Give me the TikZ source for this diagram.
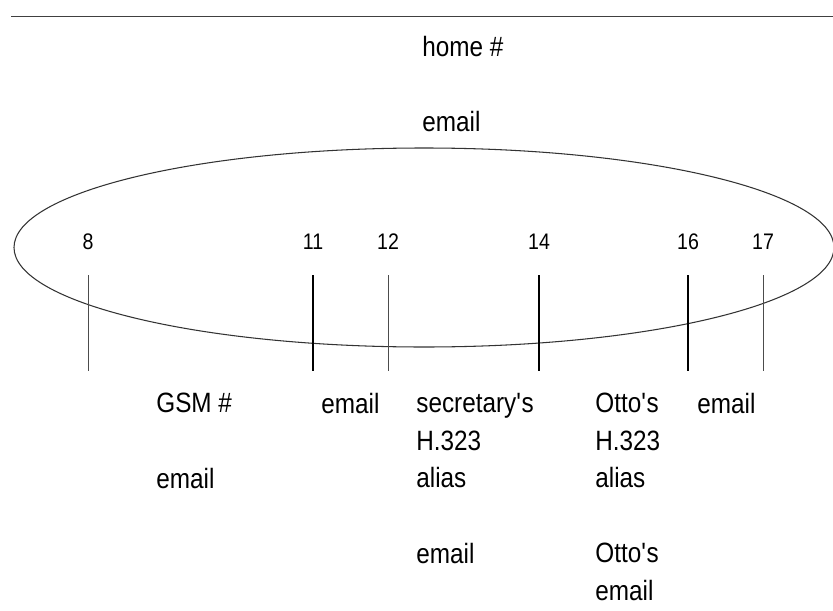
\documentclass[tikz,border=0pt]{standalone}
\usepackage{fontspec}
\setmainfont[FakeStretch=0.87]{Liberation Sans}
\usepackage{tikz}

\begin{document}
\begin{tikzpicture}
\tikzset{
  lbl/.style={anchor=north west,inner sep=0pt,align=left,font=\fontsize{15.9pt}{21.3pt}\selectfont},
  num/.style={anchor=base,inner sep=0pt,font=\fontsize{12.8pt}{15pt}\selectfont},
  thinbar/.style={line width=0.5pt,black!70},
  thickbar/.style={line width=1.1pt}
}
\useasboundingbox (0,0) rectangle (16.66,12.2);
\draw[line width=0.9pt,black!75] (0.22,11.87) -- (16.66,11.87);
\node[lbl] (home) at (8.44,11.48) {home \#};
\node[lbl] (homemail) at (8.44,9.98) {email};
\draw[line width=0.6pt,black!80] (8.48,7.25) ellipse (8.2 and 1.99);
% positions on the line
\node[num] (n8) at (1.76,7.22) {8};
\node[num] (n11) at (6.26,7.22) {11};
\node[num] (n12) at (7.76,7.22) {12};
\node[num] (n14) at (10.78,7.22) {14};
\node[num] (n16) at (13.76,7.22) {16};
\node[num] (n17) at (15.26,7.22) {17};
\draw[thinbar] (n8 |- 0,6.7) -- (n8 |- 0,4.78);
\draw[thickbar] (n11 |- 0,6.7) -- (n11 |- 0,4.78);
\draw[thinbar] (n12 |- 0,6.7) -- (n12 |- 0,4.78);
\draw[thickbar] (n14 |- 0,6.7) -- (n14 |- 0,4.78);
\draw[thickbar] (n16 |- 0,6.7) -- (n16 |- 0,4.78);
\draw[thinbar] (n17 |- 0,6.7) -- (n17 |- 0,4.78);
% addresses below
\node[lbl] (gsm) at (3.12,4.34) {GSM \#};
\node[lbl] (gsmmail) at (3.12,2.84) {email};
\node[lbl] (mail11) at (6.42,4.34) {email};
\node[lbl] (secalias) at (8.32,4.34) {secretary\textquotesingle s\\H.323\\alias};
\node[lbl] (secmail) at (8.32,1.34) {email};
\node[lbl] (ottoalias) at (11.9,4.34) {Otto\textquotesingle s\\H.323\\alias};
\node[lbl] (ottomail) at (11.9,1.34) {Otto\textquotesingle s\\email};
\node[lbl] (mail16) at (13.94,4.34) {email};
\end{tikzpicture}
\end{document}
